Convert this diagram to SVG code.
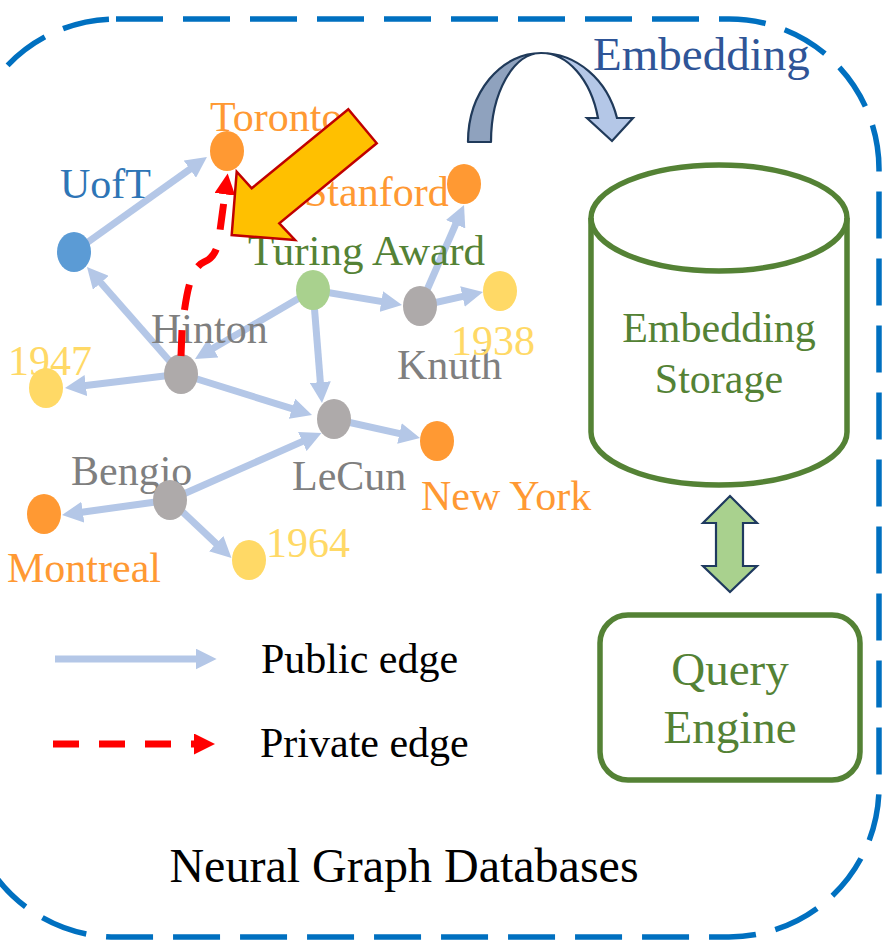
<svg xmlns="http://www.w3.org/2000/svg" width="882" height="941" viewBox="0 0 882 941">
<style>
text{font-family:"Liberation Serif","Times New Roman",serif}
.lbl{font-size:42px}
.or{fill:#FF9933}.gy{fill:#7F7F7F}.ye{fill:#FFD966}.bl{fill:#2E75B6}.gr{fill:#548235}
.pub{stroke:#B4C7E7;stroke-width:7;fill:none;marker-end:url(#ah)}
.priv{stroke:#FF0000;stroke-width:7;fill:none;stroke-dasharray:26 20;marker-end:url(#rh)}
.nOr{fill:#FF9933}.nGy{fill:#AEAAAA}.nYe{fill:#FFD966}.nBl{fill:#5B9BD5}.nGr{fill:#A9D18E}
.grn{fill:#548235}
</style>
<defs>
<marker id="ah" viewBox="0 0 10 10" refX="4" refY="5" markerWidth="3" markerHeight="3" orient="auto"><path d="M0,0 L10,5 L0,10 z" fill="#B4C7E7"/></marker>
<marker id="rh" viewBox="0 0 10 10" refX="4" refY="5" markerWidth="3" markerHeight="3" orient="auto"><path d="M0,0 L10,5 L0,10 z" fill="#FF0000"/></marker>
</defs>
<rect width="882" height="941" fill="#FFFFFF"/>
<g id="frame">
<rect x="-34" y="19" width="913" height="918" rx="150" ry="150" fill="none" stroke="#0070C0" stroke-width="5.5" stroke-dasharray="47 20"/>
<text x="404" y="882" font-size="48" text-anchor="middle" fill="#000">Neural Graph Databases</text>
</g>
<g id="connectors">
<line class="pub" x1="74" y1="252" x2="196.7" y2="164.3"/>
<line class="pub" x1="181" y1="374" x2="95.3" y2="276.5"/>
<line class="pub" x1="181" y1="374" x2="77.5" y2="386.5"/>
<line class="pub" x1="313" y1="290" x2="205.9" y2="352.6"/>
<line class="pub" x1="313" y1="290" x2="389.6" y2="302.9"/>
<line class="pub" x1="313" y1="290" x2="321" y2="390.5"/>
<line class="pub" x1="181" y1="374" x2="300" y2="411.2"/>
<line class="pub" x1="420" y1="306" x2="459" y2="216.6"/>
<line class="pub" x1="420" y1="306" x2="470.7" y2="294.7"/>
<line class="pub" x1="334" y1="419" x2="407.7" y2="435.3"/>
<line class="pub" x1="170" y1="500" x2="310" y2="438.1"/>
<line class="pub" x1="170" y1="500" x2="74.5" y2="513.3"/>
<line class="pub" x1="170" y1="500" x2="222.3" y2="549.4"/>
</g>
<g id="node-toronto"><text class="lbl or" x="210" y="131">Toronto</text><ellipse class="nOr" cx="227" cy="151" rx="17" ry="20"/></g>
<g id="node-uoft"><text class="lbl bl" x="60" y="198">UofT</text><ellipse class="nBl" cx="74" cy="252" rx="17" ry="20"/></g>
<g id="node-stanford"><text class="lbl or" x="304" y="206">Stanford</text><ellipse class="nOr" cx="464" cy="184" rx="17" ry="20"/></g>
<g id="node-turing"><text class="lbl gr" x="248" y="265" style="font-size:43px">Turing Award</text><ellipse class="nGr" cx="313" cy="290" rx="17" ry="20"/></g>
<g id="node-hinton"><text class="lbl gy" x="151" y="343">Hinton</text><ellipse class="nGy" cx="181" cy="374" rx="17" ry="20"/></g>
<g id="node-knuth"><text class="lbl gy" x="397" y="379">Knuth</text><ellipse class="nGy" cx="420" cy="306" rx="17" ry="20"/></g>
<g id="node-1938"><text class="lbl ye" x="451" y="355">1938</text><ellipse class="nYe" cx="500" cy="291" rx="17" ry="20"/></g>
<g id="node-1947"><text class="lbl ye" x="8" y="375">1947</text><ellipse class="nYe" cx="46" cy="388" rx="17" ry="20"/></g>
<g id="node-lecun"><text class="lbl gy" x="292" y="490">LeCun</text><ellipse class="nGy" cx="334" cy="419" rx="17" ry="20"/></g>
<g id="node-newyork"><text class="lbl or" x="421" y="510">New York</text><ellipse class="nOr" cx="437" cy="441" rx="17" ry="20"/></g>
<g id="node-bengio"><text class="lbl gy" x="71" y="485">Bengio</text><ellipse class="nGy" cx="170" cy="500" rx="17" ry="20"/></g>
<g id="node-montreal"><text class="lbl or" x="7" y="582">Montreal</text><ellipse class="nOr" cx="44" cy="514" rx="17" ry="20"/></g>
<g id="node-1964"><text class="lbl ye" x="266" y="557">1964</text><ellipse class="nYe" cx="249" cy="560" rx="17" ry="20"/></g>
<g id="private-connector">
<path class="priv" d="M181,356 L182,330 C186,295 190,268 204,262 C214,258 217,250 219,238 L226,186"/>
</g>
<g id="highlight-arrow">
<polygon points="231.7,235 236.7,171.7 251.7,188.3 348.3,109.3 376.7,143.3 279.3,223.3 295,240" fill="#FFC000" stroke="#C00000" stroke-width="2.5" stroke-linejoin="miter"/>
</g>
<g id="embedding-arrow">
<path d="M468,142 A73,89 0 0 1 541,53 A50,89 0 0 0 491,142 Z" fill="#8FA2BE" stroke="#203A5A" stroke-width="2.2" stroke-linejoin="round"/>
<path d="M541,53 A79,89 0 0 1 617,118 L633,118 L612,141 L587,118 L598,118 A59,89 0 0 0 541,53 Z" fill="#B4C7E7" stroke="#203A5A" stroke-width="2.2" stroke-linejoin="miter"/>
<text x="593" y="70" font-size="47" fill="#2F5597">Embedding</text>
</g>
<g id="embedding-storage">
<path d="M591,218 L591,432 A128,53 0 0 0 847,432 L847,218" fill="none" stroke="#548235" stroke-width="5.5"/>
<ellipse cx="719" cy="218" rx="128" ry="53" fill="none" stroke="#548235" stroke-width="5.5"/>
<text class="grn" x="719" y="342" font-size="42" text-anchor="middle">Embedding</text>
<text class="grn" x="719" y="393" font-size="42" text-anchor="middle">Storage</text>
</g>
<g id="link-arrow">
<polygon points="730,496 757,523 743,523 743,566 757,566 730,592 703,566 716,566 716,523 703,523" fill="#A9D18E" stroke="#1F3A5F" stroke-width="2.2"/>
</g>
<g id="query-engine">
<rect x="600" y="615" width="260" height="165" rx="28" ry="28" fill="none" stroke="#548235" stroke-width="5.5"/>
<text class="grn" x="730" y="685" font-size="47" text-anchor="middle">Query</text>
<text class="grn" x="730" y="743" font-size="47" text-anchor="middle">Engine</text>
</g>
<g id="legend">
<line class="pub" x1="55" y1="659" x2="204" y2="659"/>
<text x="261" y="673" font-size="42" fill="#000">Public edge</text>
<line class="priv" x1="53" y1="744" x2="202.4" y2="744"/>
<text x="260" y="757" font-size="42" fill="#000">Private edge</text>
</g>
</svg>
